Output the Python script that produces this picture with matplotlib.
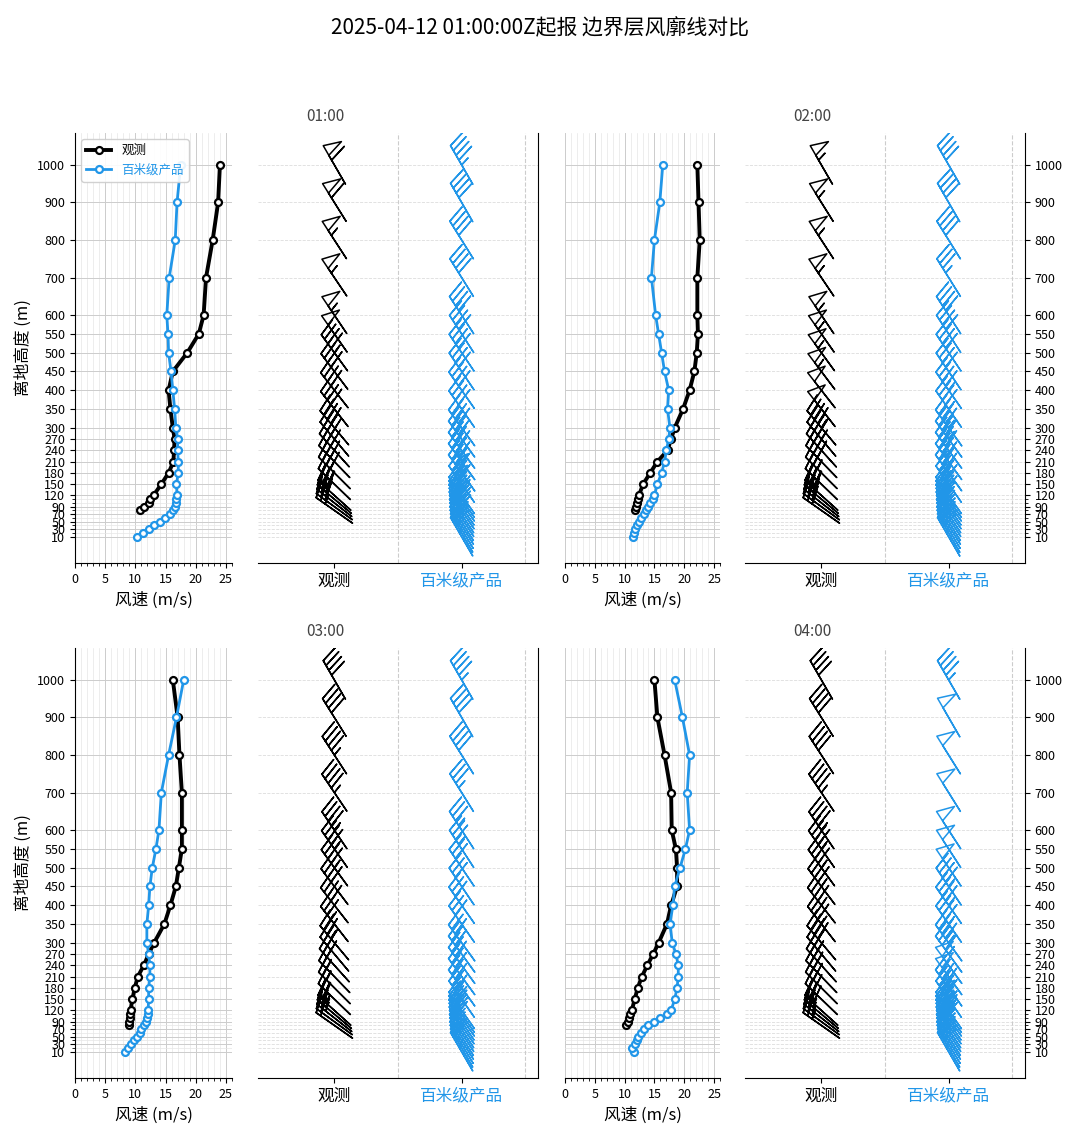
import numpy as np
import matplotlib
matplotlib.use('Agg')
import matplotlib.pyplot as plt

plt.rcParams['font.family'] = ['Noto Sans CJK SC', 'DejaVu Sans']
plt.rcParams['axes.unicode_minus'] = False

fig = plt.figure(figsize=(10.8, 11.39), dpi=100)
fig.suptitle('2025-04-12 01:00:00Z起报 边界层风廓线对比', fontsize=15, y=0.985)

# Heights of the levels (m)
H = np.array([10, 20, 30, 40, 50, 60, 70, 80, 90, 100, 110, 120, 150, 180, 210, 240, 270,
              300, 350, 400, 450, 500, 550, 600, 700, 800, 900, 1000])
H_obs = H[7:]  # observation starts at 80 m

# Wind speed (m/s) per time: observation from 80 m, product from 10 m
panels = {
    '01:00': {
        'obs': [10.7, 11.5, 12.2, 12.5, 13.0, 14.3, 15.5, 16.3, 16.4, 16.5, 16.2, 15.8, 15.5,
                16.2, 18.6, 20.5, 21.3, 21.7, 22.8, 23.7, 24.0],
        'prod': [10.2, 11.2, 12.2, 13.1, 14.0, 14.9, 15.7, 16.3, 16.6, 16.7, 16.8, 16.9, 16.8,
                 17.1, 17.1, 17.0, 17.0, 16.7, 16.5, 16.2, 15.9, 15.5, 15.4, 15.2, 15.6, 16.6, 16.9, 17.5],
    },
    '02:00': {
        'obs': [11.8, 11.9, 12.0, 12.2, 12.4, 13.1, 14.3, 15.5, 17.2, 17.8, 18.4, 19.8, 20.9,
                21.7, 22.1, 22.3, 22.2, 22.2, 22.6, 22.4, 22.2],
        'prod': [11.4, 11.5, 11.8, 12.1, 12.4, 12.8, 13.2, 13.6, 14.0, 14.3, 14.7, 15.0, 15.5,
                 16.2, 16.7, 17.0, 17.4, 17.6, 17.2, 17.4, 16.7, 16.2, 15.7, 15.2, 14.5, 15.0, 15.9, 16.4],
    },
    '03:00': {
        'obs': [9.0, 9.0, 9.1, 9.1, 9.2, 9.5, 9.9, 10.4, 11.4, 12.2, 13.1, 14.8, 15.8,
                16.7, 17.2, 17.7, 17.7, 17.7, 17.3, 17.0, 16.2],
        'prod': [8.2, 8.7, 9.2, 9.7, 10.2, 10.7, 11.0, 11.4, 11.7, 11.9, 12.1, 12.1, 12.2,
                 12.2, 12.4, 12.4, 12.2, 11.9, 11.9, 12.2, 12.4, 12.8, 13.4, 13.9, 14.3, 15.5, 16.8, 18.0],
    },
    '04:00': {
        'obs': [10.3, 10.5, 10.7, 10.9, 11.2, 11.7, 12.2, 12.9, 13.8, 14.8, 15.7, 17.1, 17.8,
                18.8, 18.8, 18.6, 17.9, 17.8, 16.7, 15.5, 15.0],
        'prod': [11.5, 11.3, 11.7, 12.0, 12.3, 12.8, 13.3, 14.0, 15.0, 16.0, 17.1, 17.8, 18.4,
                 18.8, 19.0, 19.0, 18.6, 18.0, 17.6, 18.1, 18.4, 19.3, 20.2, 20.9, 20.5, 20.9, 19.7, 18.4],
    },
}

# Wind direction (deg, from) per level
dir_obs = [300, 302, 304, 305, 306, 308, 310, 312, 314, 315, 316, 318, 320, 320, 322, 322, 323,
           324, 325, 326, 326, 327, 328, 330]
dir_prod = [330, 330, 329, 328, 328, 327, 327, 326, 326, 325, 325, 325, 325, 324, 324, 324, 324,
            324, 325, 325, 326, 326, 327, 327, 328, 328, 330, 330]

BLUE = '#2196e8'
tick_h = [10, 30, 50, 70, 90, 120, 150, 180, 210, 240, 270, 300, 350, 400, 450, 500, 550, 600,
          700, 800, 900, 1000]
ylim = (-60, 1085)

# axes positions (left, width) in pixels, rows (bottom)
cols = [(75, 157, 258, 280), (565, 155, 745, 280)]
rows = [(563, 430), (1078, 430)]
W, Hf = 1080., 1139.

for k, (t, d) in enumerate(panels.items()):
    r, c = divmod(k, 2)
    bot, hgt = rows[r]
    pl, pw, bl, bw = cols[c]
    ax = fig.add_axes([pl / W, 1 - bot / Hf, pw / W, hgt / Hf])
    axb = fig.add_axes([bl / W, 1 - bot / Hf, bw / W, hgt / Hf])

    # profile
    ax.plot(d['obs'], H_obs, '-o', color='black', lw=2.8, ms=5, mfc='white', mew=1.6, label='观测')
    ax.plot(d['prod'], H, '-o', color=BLUE, lw=2, ms=5, mfc='white', mew=1.6, label='百米级产品')
    ax.set_xlim(0, 26)
    ax.set_ylim(*ylim)
    ax.set_xticks([0, 5, 10, 15, 20, 25])
    ax.set_xticks(np.arange(0, 27, 1), minor=True)
    ax.set_yticks(tick_h)
    ax.set_yticks(H, minor=True)
    ax.grid(True, which='major', color='#cccccc', lw=0.7)
    ax.grid(True, which='minor', color='#e6e6e6', lw=0.5)
    ax.spines['top'].set_visible(False)
    ax.spines['right'].set_visible(False)
    ax.tick_params(labelsize=9)
    ax.set_xlabel('风速 (m/s)', fontsize=12)
    if c == 0:
        ax.set_ylabel('离地高度 (m)', fontsize=12)
    else:
        ax.set_yticklabels([])
        ax.tick_params(axis='y', which='both', length=0)
        ax.spines['left'].set_visible(False)
    if k == 0:
        leg = ax.legend(loc='upper left', fontsize=9, framealpha=0.9)
        leg.get_texts()[1].set_color(BLUE)

    # barbs
    so = np.array(d['obs'])
    sp = np.array(d['prod'])
    ro = np.deg2rad(dir_obs[-len(so):])
    rp = np.deg2rad(dir_prod)
    inc = dict(half=2, full=4, flag=20)
    axb.barbs(np.zeros(len(so)), H_obs, -so * np.sin(ro), -so * np.cos(ro), length=8,
              edgecolor='black', facecolor='none', pivot='middle', barb_increments=inc, linewidth=1.1)
    axb.barbs(np.ones(len(sp)), H, -sp * np.sin(rp), -sp * np.cos(rp), length=8,
              edgecolor=BLUE, facecolor='none', pivot='middle', barb_increments=inc, linewidth=1.1)
    axb.set_xlim(-0.6, 1.6)
    axb.set_ylim(*ylim)
    for h in H:
        axb.axhline(h, color='#dddddd', ls='--', lw=0.6, zorder=0)
    for xv in (0.5, 1.5):
        axb.axvline(xv, color='#cccccc', ls='--', lw=0.8, zorder=0)
    axb.set_xticks([0, 1])
    axb.set_xticklabels(['观测', '百米级产品'], fontsize=12)
    axb.get_xticklabels()[1].set_color(BLUE)
    axb.spines['top'].set_visible(False)
    axb.spines['left'].set_visible(False)
    if c == 1:
        axb.yaxis.tick_right()
        axb.set_yticks(tick_h)
        axb.set_yticks(H, minor=True)
        axb.tick_params(axis='y', labelsize=9)
    else:
        axb.set_yticks([])
    fig.text((bl + 67) / W, 1 - (bot - hgt - 12) / Hf, t, fontsize=11, color='#444444', ha='center')

fig.savefig('out.png', dpi=100)
